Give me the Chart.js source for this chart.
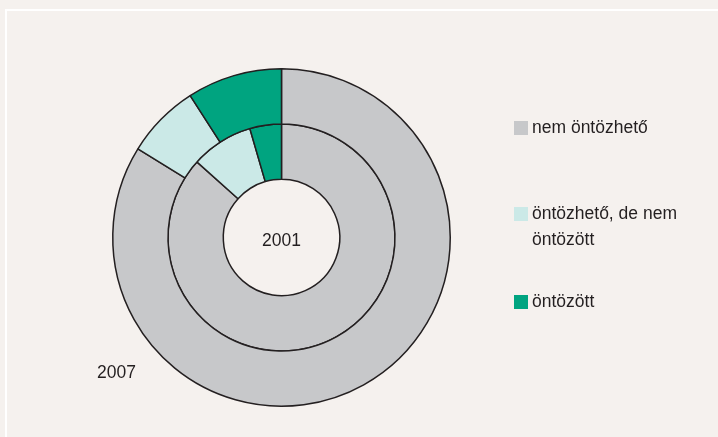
<!DOCTYPE html>
<html>
<head>
<meta charset="utf-8">
<script src="https://cdn.jsdelivr.net/npm/chart.js@4"></script>
<style>
    html, body { margin: 0; padding: 0; background: #f5f1ee; }
    #wrap { position: relative; width: 718px; height: 437px; overflow: hidden; }
    #frame { position: absolute; left: 5px; top: 9px; width: 730px; height: 440px;
             border-left: 2px solid #ffffff; border-top: 2px solid #ffffff; }
    canvas { position: absolute; left: 0; top: 0; }
</style>
</head>
<body>
<div id="wrap">
    <div id="frame"></div>
    <canvas id="chart" width="718" height="437"></canvas>
</div>
<script>
// Data
const categories = ['nem öntözhető', 'öntözhető, de nem öntözött', 'öntözött'];
const legendLines = [['nem öntözhető'], ['öntözhető, de nem', 'öntözött'], ['öntözött']];
const years = ['2007', '2001'];
const values2007 = [83.8, 7.1, 9.1];
const values2001 = [86.6, 8.9, 4.5];
const colors = ['#c7c8ca', '#cbe9e7', '#00a480'];

const FONT = '"Liberation Sans", Arial, sans-serif';

// Year labels + legend drawn on the canvas
const labelsPlugin = {
    id: 'labels',
    afterDraw: (chart) => {
        const ctx = chart.ctx;
        const { left, right, top, bottom } = chart.chartArea;
        const cx = (left + right) / 2;
        const cy = (top + bottom) / 2;

        ctx.save();
        ctx.font = '17.5px ' + FONT;
        ctx.fillStyle = '#231f20';
        ctx.textBaseline = 'middle';

        // inner year in the hole, outer year bottom-left
        ctx.textAlign = 'center';
        ctx.fillText(years[1], cx, cy + 4);
        ctx.fillText(years[0], cx - 165, cy + 136);

        // legend
        ctx.textAlign = 'left';
        const legendY = [128, 214, 302];
        legendLines.forEach((lines, i) => {
            ctx.fillStyle = colors[i];
            ctx.fillRect(514, legendY[i] - 7, 14, 14);
            ctx.fillStyle = '#231f20';
            lines.forEach((t, j) => ctx.fillText(t, 532, legendY[i] + j * 26));
        });
        ctx.restore();
    }
};

new Chart(document.getElementById('chart'), {
    type: 'doughnut',
    plugins: [labelsPlugin],
    data: {
        labels: categories,
        datasets: [
            { label: years[0], data: values2007, backgroundColor: colors,
              borderColor: '#231f20', borderWidth: 1.5 },
            { label: years[1], data: values2001, backgroundColor: colors,
              borderColor: '#231f20', borderWidth: 1.5 }
        ]
    },
    options: {
        responsive: false,
        animation: false,
        cutout: '34.5%',
        layout: { padding: { left: 112, top: 68, right: 267, bottom: 30 } },
        plugins: {
            legend: { display: false },
            tooltip: { enabled: false }
        }
    }
});
</script>
</body>
</html>
